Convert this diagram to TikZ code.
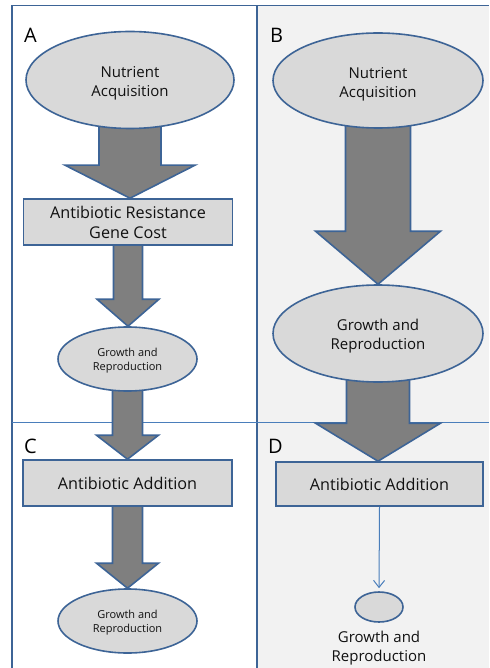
\documentclass[tikz,border=0pt]{standalone}
\usepackage{fontspec}
\setmainfont{Open Sans}
\usetikzlibrary{shapes.geometric,arrows.meta,calc}
\definecolor{frameblue}{HTML}{3D6496}
\definecolor{lineblue}{HTML}{4A7EBB}
\definecolor{shapefill}{HTML}{D9D9D9}
\definecolor{arrowfill}{HTML}{7F7F7F}
\definecolor{panelgray}{HTML}{F2F2F2}
\definecolor{textc}{HTML}{111111}
\pgfdeclarelayer{bg}
\pgfdeclarelayer{arr}
\pgfsetlayers{bg,arr,main}
\tikzset{
  ell/.style={ellipse, draw=frameblue, line width=1.6pt, fill=shapefill, inner sep=0pt},
  txt/.style={align=center, text=textc, inner sep=0pt},
  boxnode/.style={rectangle, draw=frameblue, line width=1.6pt, fill=shapefill, inner sep=0pt, align=center, text=textc},
  blockarrow/.style={draw=frameblue, line width=1.6pt, fill=arrowfill, line join=miter},
  frame/.style={draw=frameblue, line width=1.8pt},
  hline/.style={draw=lineblue, line width=1pt},
  panellabel/.style={anchor=base west, inner sep=0pt, font=\fontsize{20}{24}\selectfont, text=black},
  bigtext/.style={font=\fontsize{15}{19}\selectfont},
  boxtext/.style={font=\fontsize{16.2}{20}\selectfont},
  smalltext/.style={font=\fontsize{11}{14}\selectfont}
}
\newcommand\blkarrow[5]{%
  \begin{pgfonlayer}{arr}
  \draw[blockarrow] let \p1=(#1.south), \p2=(#2.north) in
    (\x1-#3pt,\y1+8pt) -- (\x1-#3pt,\y2+#5pt) -- (\x1-#4pt,\y2+#5pt) -- (\x1,\y2)
    -- (\x1+#4pt,\y2+#5pt) -- (\x1+#3pt,\y2+#5pt) -- (\x1+#3pt,\y1+8pt) -- cycle;
  \end{pgfonlayer}}
\begin{document}
\begin{tikzpicture}[x=1pt,y=-1pt]
\useasboundingbox (0,0) rectangle (489,668);
\begin{pgfonlayer}{bg}
  \fill[panelgray] (257,5.5) rectangle (489,668);
  \draw[frame] (12,668) -- (12,5.5) -- (489,5.5);
  \draw[frame] (257,5.5) -- (257,668);
  \draw[hline] (12,422) -- (489,422);
\end{pgfonlayer}

% panel labels
\node[panellabel] (la) at (24,43) {A};
\node[panellabel] (lb) at (270,43) {B};
\node[panellabel] (lc) at (24,453) {C};
\node[panellabel] (ld) at (268,453) {D};

% panel A / C
\node[ell, minimum width=208pt, minimum height=97pt] (a1) at (130,80) {};
\node[txt, bigtext] (a1t) at ($(a1)+(0,3.5)$) {Nutrient\\Acquisition};
\node[boxnode, boxtext, minimum width=209pt, minimum height=46pt] (a2) at (128,222) {Antibiotic Resistance\\Gene Cost};
\node[ell, minimum width=139pt, minimum height=64pt] (a3) at (127.5,359) {};
\node[txt, smalltext] (a3t) at ($(a3)+(0,2)$) {Growth and\\Reproduction};
\node[boxnode, boxtext, minimum width=209pt, minimum height=46pt] (c1) at (127.5,483) {Antibiotic Addition};
\node[ell, minimum width=139pt, minimum height=64pt] (c2) at (127.5,621) {};
\node[txt, smalltext] (c2t) at ($(c2)+(0,2)$) {Growth and\\Reproduction};

\blkarrow{a1}{a2}{31}{65}{33}
\blkarrow{a2}{a3}{14.5}{31}{27}
\blkarrow{a3}{c1}{15}{31}{24}
\blkarrow{c1}{c2}{15}{31}{25}

% panel B / D
\node[ell, minimum width=210pt, minimum height=95pt] (b1) at (378,80.5) {};
\node[txt, bigtext] (b1t) at ($(b1)+(0,3.5)$) {Nutrient\\Acquisition};
\node[ell, minimum width=210pt, minimum height=97pt] (b2) at (378,333.5) {};
\node[txt, bigtext] (b2t) at ($(b2)+(0,3)$) {Growth and\\Reproduction};
\node[boxnode, boxtext, minimum width=207pt, minimum height=44pt] (d1) at (379.5,484) {Antibiotic Addition};
\node[ell, minimum width=48pt, minimum height=30pt] (d2) at (379,607) {};
\node[txt, bigtext] (d3) at (379,648.5) {Growth and\\Reproduction};

\blkarrow{b1}{b2}{32.5}{62.5}{53}
\blkarrow{b2}{d1}{31.5}{62.5}{38}

\draw[draw=lineblue, line width=1pt, -{Straight Barb[length=7pt,width=11pt]}, shorten >=3pt] (d1.south) -- (d2.north);
\end{tikzpicture}
\end{document}
